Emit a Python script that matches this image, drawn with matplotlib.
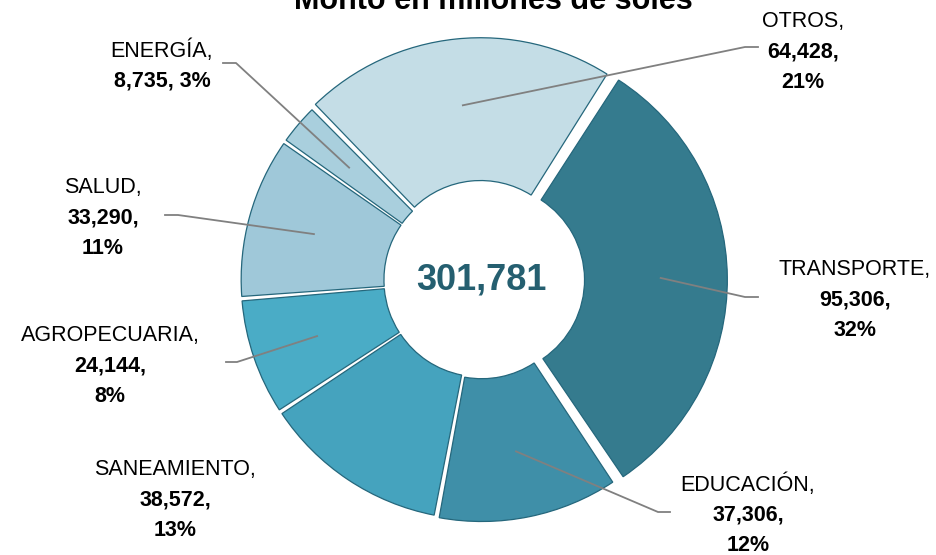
import matplotlib.pyplot as plt
import numpy as np

plt.rcParams['font.family'] = ['Liberation Sans Narrow', 'Liberation Sans', 'DejaVu Sans']

sectores = ['TRANSPORTE', 'EDUCACIÓN', 'SANEAMIENTO', 'AGROPECUARIA', 'SALUD', 'ENERGÍA', 'OTROS']
montos = [95306, 37306, 38572, 24144, 33290, 8735, 64428]
colores = ['#357b8e', '#3f8fa8', '#45a3be', '#4aacc6', '#9fc8d9', '#a9cfdd', '#c4dde6']
separacion = [0.035, 0.015, 0.008, 0.008, 0.008, 0.008, 0.018]

total = sum(montos)
R = 238.0  # px por unidad de radio
cx, cy = 481, 280  # centro en px (desde arriba)

fig = plt.figure(figsize=(9.36, 5.55), dpi=100)
ax = fig.add_axes([0, 0, 1, 1])


def px(x, y):
    # pixel (desde arriba a la izquierda) -> datos
    return (x - cx) / R, (cy - y) / R


wedges, _ = ax.pie(montos, colors=colores, startangle=57.5, counterclock=False,
                   explode=separacion, radius=1.0,
                   wedgeprops=dict(width=0.6, edgecolor='#25677c', linewidth=0.9))
# pequeño hueco blanco entre porciones
for w in wedges:
    w.set_theta1(w.theta1 + 0.4)
    w.set_theta2(w.theta2 - 0.4)

ax.set_xlim(-cx / R, (936 - cx) / R)
ax.set_ylim(-(555 - cy) / R, cy / R)
ax.set_aspect('auto')
ax.axis('off')

ax.text(0, 0.0, f'{total:,}', ha='center', va='center', fontsize=26,
        fontweight='bold', color='#255f70')

fig.text(0.527, 1 - 9 / 555, 'Monto en millones de soles', ha='center', va='baseline',
         fontsize=22, fontweight='bold')

# posiciones de etiquetas (px): centro del texto, codo de la linea, extremo
etiquetas = {
    'OTROS': ((803, 52), (745, 47), (758, 47), ['OTROS,', '64,428,', '21%']),
    'TRANSPORTE': ((855, 300), (745, 297), (758, 297), ['TRANSPORTE,', '95,306,', '32%']),
    'EDUCACIÓN': ((748, 515), (658, 512), (670, 512), ['EDUCACIÓN,', '37,306,', '12%']),
    'SANEAMIENTO': ((175, 500), None, None, ['SANEAMIENTO,', '38,572,', '13%']),
    'AGROPECUARIA': ((110, 366), (237, 362), (226, 362), ['AGROPECUARIA,', '24,144,', '8%']),
    'SALUD': ((103, 218), (178, 215), (165, 215), ['SALUD,', '33,290,', '11%']),
    'ENERGÍA': ((162, 66), (236, 63), (223, 63), ['ENERGÍA,', '8,735, 3%']),
}

for w, nombre in zip(wedges, sectores):
    (tx, ty), codo, fin, lineas = etiquetas[nombre]
    n = len(lineas)
    for k, linea in enumerate(lineas):
        yk = ty + (k - (n - 1) / 2) * 30.5
        ax.text(*px(tx, yk), linea, ha='center', va='center', fontsize=15.5,
                fontweight='normal' if k == 0 else 'bold', color='black')
    if codo is None:
        continue
    ang = np.deg2rad((w.theta1 + w.theta2) / 2)
    r0 = 0.72
    ox, oy = w.center
    x0, y0 = ox + r0 * np.cos(ang), oy + r0 * np.sin(ang)
    x1, y1 = px(*codo)
    x2, y2 = px(*fin)
    ax.plot([x0, x1, x2], [y0, y1, y2], color='#808080', lw=1.3, zorder=5)

fig.savefig('out.png', dpi=100)
